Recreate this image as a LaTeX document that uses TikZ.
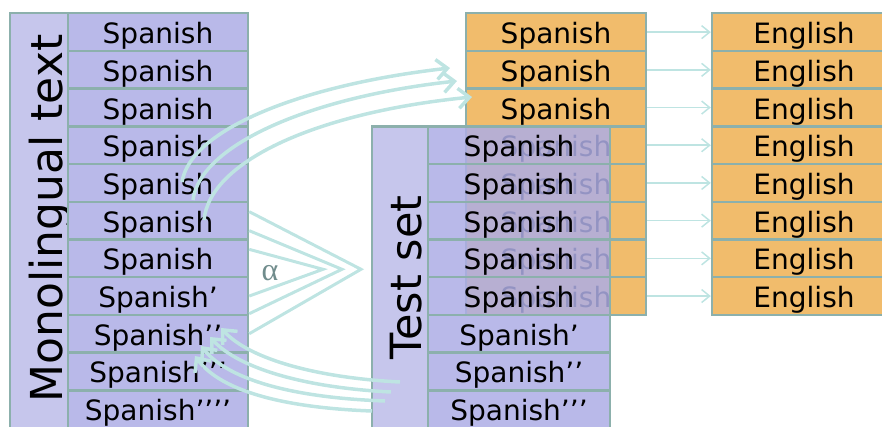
\documentclass[tikz,border=0pt]{standalone}
\usepackage{fontspec}
\setmainfont{DejaVu Sans}
\newfontfamily\alphafont{Liberation Serif}
\usetikzlibrary{arrows.meta}
\definecolor{cellline}{RGB}{140,176,172}
\definecolor{rowlav}{RGB}{185,185,233}
\definecolor{collav}{RGB}{198,198,236}
\definecolor{testlav}{RGB}{173,173,229}
\definecolor{srcorange}{RGB}{241,188,108}
\definecolor{arcteal}{RGB}{190,228,226}
\definecolor{alphagray}{RGB}{112,140,140}
\tikzset{
rowcell/.style={rectangle, draw=cellline, fill=rowlav, line width=2.4pt, inner sep=0pt, minimum width=180pt, minimum height=37.7pt, text height=23pt, text depth=0pt, font=\fontsize{28}{30}\selectfont},
testcell/.style={rowcell, fill=testlav, fill opacity=0.85, text opacity=1, minimum width=182pt},
srccell/.style={rowcell, fill=srcorange},
engcell/.style={rowcell, fill=srcorange, minimum width=184pt},
labelcol/.style={rectangle, draw=cellline, fill=collav, line width=2.4pt, inner sep=0pt},
labeltext/.style={rotate=90, anchor=base, inner sep=0pt},
transarrow/.style={draw=arcteal, line width=1.5pt, -{Straight Barb[length=8pt,width=13pt]}},
bigarc/.style={draw=arcteal, line width=3.5pt, -{Straight Barb[length=11pt,width=20pt]}},
wedge/.style={draw=arcteal, line width=3pt, line join=miter},
}

\begin{document}
\begin{tikzpicture}[x=1pt,y=-1pt]
  \clip (0,0) rectangle (882,427);

  % monolingual text
  \node[labelcol, minimum width=58pt, minimum height=414.7pt] at (39,220.65) (monocol) {};
  \node[labeltext, font=\fontsize{44}{50}\selectfont] at (62,218.5) (monolabel) {Monolingual text};
  \foreach \i in {1,...,7}
    \node[rowcell] at (158,{13.3+37.7*(\i-0.5)}) (mono\i) {Spanish};
  \node[rowcell] at (158,296.05) (mono8) {Spanish’};
  \node[rowcell] at (158,333.75) (mono9) {Spanish’’};
  \node[rowcell] at (158,371.45) (mono10) {Spanish’’’};
  \node[rowcell] at (158,409.15) (mono11) {Spanish’’’’};

  % parallel data
  \foreach \i in {1,...,8} {
    \node[srccell] at (556,{13.3+37.7*(\i-0.5)}) (src\i) {Spanish};
    \node[engcell] at (804,{13.3+37.7*(\i-0.5)}) (eng\i) {English};
    \draw[transarrow] (src\i) -- (eng\i);
  }

  % test set
  \node[labelcol, minimum width=56pt, minimum height=301.6pt] at (400,277.2) (testcol) {};
  \node[labeltext, font=\fontsize{43}{50}\selectfont] at (421,277.5) (testlabel) {Test set};
  \foreach \i in {1,...,5}
    \node[testcell] at (519,{126.4+37.7*(\i-0.5)}) (test\i) {Spanish};
  \node[testcell] at (519,333.75) (test6) {Spanish’};
  \node[testcell] at (519,371.45) (test7) {Spanish’’};
  \node[testcell] at (519,409.15) (test8) {Spanish’’’};

  % alpha wedge
  \coordinate (apexa) at (361,269.3);
  \coordinate (apexb) at (342,269.3);
  \coordinate (apexc) at (323,269.3);
  \draw[wedge] ([yshift=9pt]mono6.east) -- (apexa) -- (mono9.east);
  \draw[wedge] ([yshift=-10pt]mono6.east) -- (apexb) -- (mono9.north east);
  \draw[wedge] ([yshift=9pt]mono7.east) -- (apexc) -- (mono8.east);
  \node[text=alphagray, font=\alphafont\fontsize{32}{32}\selectfont] at (270,273) (alpha) {α};

  % arcs
  \coordinate (monoout1) at (182,182);
  \coordinate (monoout2) at (193,200);
  \coordinate (monoout3) at (204,220);
  \coordinate (srcin1) at (450,68);
  \coordinate (srcin2) at (457,81);
  \coordinate (srcin3) at (472,97);
  \draw[bigarc] (monoout1) .. controls (190,130) and (300,85) .. (srcin1);
  \draw[bigarc] (monoout2) .. controls (200,145) and (310,97) .. (srcin2);
  \draw[bigarc] (monoout3) .. controls (210,160) and (320,112) .. (srcin3);

  \coordinate (testout1) at (400,382);
  \coordinate (testout2) at (391,392);
  \coordinate (testout3) at (385,401);
  \coordinate (testout4) at (372,411);
  \coordinate (monoin1) at (221,328);
  \coordinate (monoin2) at (210,337);
  \coordinate (monoin3) at (201,346);
  \coordinate (monoin4) at (195,356);
  \draw[bigarc] (testout1) .. controls (320,378) and (250,360) .. (monoin1);
  \draw[bigarc] (testout2) .. controls (310,388) and (240,370) .. (monoin2);
  \draw[bigarc] (testout3) .. controls (300,398) and (230,382) .. (monoin3);
  \draw[bigarc] (testout4) .. controls (290,408) and (222,393) .. (monoin4);
\end{tikzpicture}
\end{document}
